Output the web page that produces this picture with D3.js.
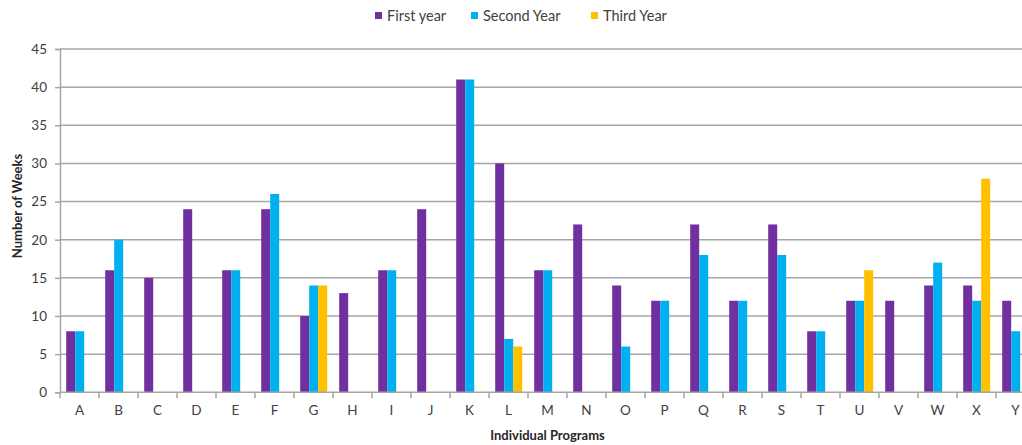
<!DOCTYPE html>
<html>
<head>
<meta charset="utf-8">
<script src="https://cdn.jsdelivr.net/npm/d3@7"></script>
<style>
  html, body { margin: 0; padding: 0; background: #fff; overflow: hidden; }
  svg { display: block; }
  text { font-family: Lato, "Open Sans", "Liberation Sans", sans-serif; }
</style>
</head>
<body>
<svg id="chart" width="1022" height="445"></svg>
<script>
// Programs along the x axis
const programs = ["A","B","C","D","E","F","G","H","I","J","K","L","M","N","O","P","Q","R","S","T","U","V","W","X","Y"];
// Weeks per program for each year (null = no bar)
const firstYear  = [8,16,15,24,16,24,10,13,16,24,41,30,16,22,14,12,22,12,22,8,12,12,14,14,12];
const secondYear = [8,20,null,null,16,26,14,null,16,null,41,7,16,null,6,12,18,12,18,8,12,null,17,12,8];
const thirdYear  = [null,null,null,null,null,null,14,null,null,null,null,6,null,null,null,null,null,null,null,null,16,null,null,28,null];
const seriesNames = ["First year","Second Year","Third Year"];
const seriesColors = ["#7030A0","#00B0F0","#FFC000"];
const yTicks = [0,5,10,15,20,25,30,35,40,45];

const series = [firstYear, secondYear, thirdYear];

const svg = d3.select("#chart");
const plotLeft = 60, plotTop = 49, plotBottom = 392.3;
const bandW = 39;
const plotRight = plotLeft + bandW * programs.length;

const x = d3.scaleBand().domain(programs).range([plotLeft, plotRight]).paddingInner(0).paddingOuter(0);
const yS = d3.scaleLinear().domain([0,45]).range([plotBottom, plotTop]);

const groupPad = 6.2;
const xSub = d3.scaleBand().domain(d3.range(3)).range([groupPad, bandW - groupPad + 0.4]).padding(0);

// Horizontal gridlines
svg.append("g").selectAll("line")
  .data(yTicks.filter(d => d > 0))
  .join("line")
  .attr("x1", plotLeft).attr("x2", plotRight)
  .attr("y1", d => yS(d)).attr("y2", d => yS(d))
  .attr("stroke", "#a6a6a6").attr("stroke-width", 1.5);

// Bars
series.forEach((vals, si) => {
  svg.append("g").selectAll("rect")
    .data(programs.map((p, i) => ({p, v: vals[i]})).filter(d => d.v != null))
    .join("rect")
    .attr("x", d => x(d.p) + xSub(si))
    .attr("width", xSub.bandwidth())
    .attr("y", d => yS(d.v))
    .attr("height", d => yS(0) - yS(d.v))
    .attr("fill", seriesColors[si]);
});

// Y axis
const yAxis = svg.append("g")
  .attr("transform", `translate(${plotLeft},0)`)
  .call(d3.axisLeft(yS).tickValues(yTicks).tickSize(5).tickPadding(8).tickFormat(d3.format("d")));
yAxis.select(".domain").attr("stroke", "#a6a6a6").attr("stroke-width", 1.5);
yAxis.selectAll(".tick line").attr("stroke", "#a6a6a6").attr("stroke-width", 1.5);
yAxis.selectAll(".tick text").attr("fill", "#404040").style("font-size", "13.5px");

// X axis with tick marks at category boundaries
const xAxisG = svg.append("g").attr("transform", `translate(0,${plotBottom})`);
xAxisG.append("line").attr("x1", plotLeft).attr("x2", plotRight)
  .attr("stroke", "#a6a6a6").attr("stroke-width", 1.5);
xAxisG.selectAll("line.tk")
  .data(d3.range(programs.length + 1))
  .join("line").attr("class", "tk")
  .attr("x1", i => plotLeft + i * x.step()).attr("x2", i => plotLeft + i * x.step())
  .attr("y1", 0).attr("y2", 6)
  .attr("stroke", "#a6a6a6").attr("stroke-width", 1.5);
xAxisG.selectAll("text")
  .data(programs)
  .join("text")
  .attr("x", d => x(d) + x.bandwidth() / 2)
  .attr("y", 23)
  .attr("text-anchor", "middle")
  .attr("fill", "#404040")
  .style("font-size", "13.5px")
  .text(d => d);

// Axis titles
svg.append("text")
  .attr("x", (plotLeft + plotRight) / 2).attr("y", 440)
  .attr("text-anchor", "middle")
  .attr("fill", "#262626")
  .style("font-size", "13px").style("font-weight", "bold")
  .text("Individual  Programs");

svg.append("text")
  .attr("transform", "translate(22,206) rotate(-90)")
  .attr("text-anchor", "middle")
  .attr("fill", "#262626")
  .style("font-size", "13px").style("font-weight", "bold")
  .text("Number of Weeks");

// Legend
const legendX = [375, 471, 591];
const legend = svg.append("g");
seriesNames.forEach((name, i) => {
  legend.append("rect")
    .attr("x", legendX[i]).attr("y", 12).attr("width", 7).attr("height", 7)
    .attr("fill", seriesColors[i]);
  legend.append("text")
    .attr("x", legendX[i] + 12).attr("y", 20.5)
    .attr("fill", "#404040")
    .style("font-size", "14.5px")
    .text(name);
});
</script>
</body>
</html>
